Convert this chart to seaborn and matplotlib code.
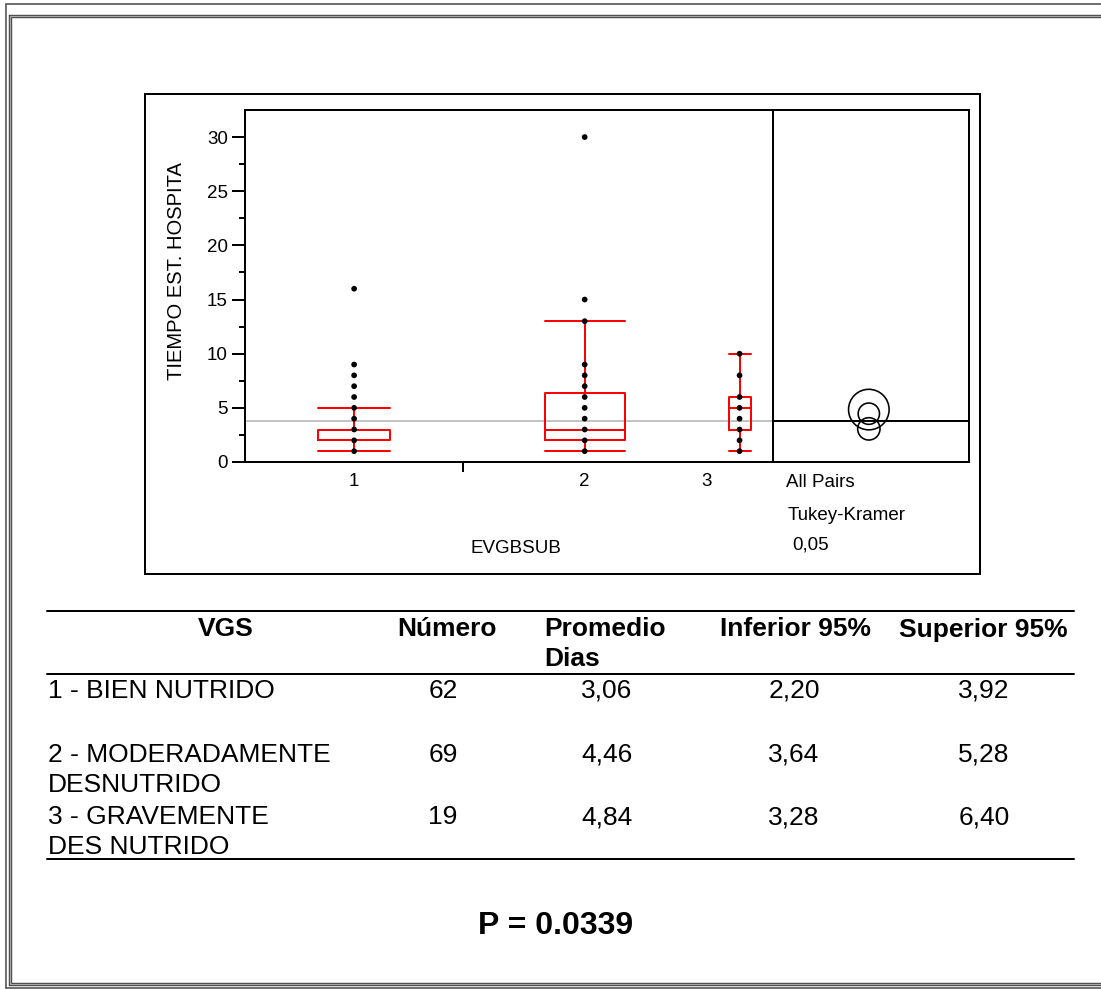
import numpy as np
import pandas as pd
import matplotlib
matplotlib.use("Agg")
import matplotlib.pyplot as plt
from matplotlib.patches import Circle, Rectangle
import seaborn as sns

# ---- data -------------------------------------------------------------
groups = ["1", "2", "3"]
group_n = [62, 69, 19]

# distinct hospital-stay values observed in each group (days)
dots_g1 = [1, 2, 3, 4, 5, 6, 7, 8, 9, 16]
dots_g2 = [1, 2, 3, 4, 5, 6, 7, 8, 9, 13, 15, 30]
dots_g3 = [1, 2, 3, 4, 5, 6, 8, 10]

# outlier box plot summaries per group
box_whislo = [1, 1, 1]
box_q1 = [2, 2, 3]
box_med = [2, 3, 5]
box_q3 = [3, 6.4, 6]
box_whishi = [5, 13, 10]

grand_mean = 3.8

# summary table
vgs_labels = ["1 - BIEN NUTRIDO", "2 - MODERADAMENTE\nDESNUTRIDO", "3 - GRAVEMENTE\nDES NUTRIDO"]
numero = [62, 69, 19]
promedio = [3.06, 4.46, 4.84]
inferior = [2.20, 3.64, 3.28]
superior = [3.92, 5.28, 6.40]
p_value = 0.0339
alpha = 0.05

# ---- style ------------------------------------------------------------
sns.set_style("ticks")
plt.rcParams["font.family"] = ["Liberation Sans", "DejaVu Sans"]
plt.rcParams.update({"text.color": "black", "axes.labelcolor": "black",
                     "xtick.color": "black", "ytick.color": "black"})

W, H = 1101, 989
PT = 0.72  # points per pixel at 100 dpi
fig = plt.figure(figsize=(W / 100, H / 100), dpi=100)


def rect(x0, y0, x1, y1):
    return [x0 / W, 1 - y1 / H, (x1 - x0) / W, (y1 - y0) / H]


# full-page layer in pixel units for frames, table and notes
bg = fig.add_axes([0, 0, 1, 1])
bg.set_xlim(0, W)
bg.set_ylim(H, 0)
bg.axis("off")

ax = fig.add_axes(rect(245, 110, 773, 462))
axc = fig.add_axes(rect(773, 110, 969, 462), sharey=ax)

# ---- box plot panel ---------------------------------------------------
edges = np.concatenate([[0], np.cumsum(group_n)])
centers = (edges[:-1] + edges[1:]) / 2
widths = np.array(group_n) * 0.33

dots = [dots_g1, dots_g2, dots_g3]
dot_df = pd.DataFrame({
    "x": np.concatenate([[c] * len(d) for c, d in zip(centers, dots)]),
    "y": np.concatenate(dots),
})

ax.axhline(grand_mean, color="#c4c4c4", lw=2 * PT, zorder=1)

stats = [dict(whislo=a, q1=b, med=c, q3=d, whishi=e, fliers=[])
         for a, b, c, d, e in zip(box_whislo, box_q1, box_med, box_q3, box_whishi)]
red = dict(color="#ff0000", lw=2 * PT)
ax.bxp(stats, positions=centers, widths=widths, capwidths=widths, showfliers=False,
       boxprops=red, whiskerprops=red, capprops=red, medianprops=red, manage_ticks=False,
       zorder=2)

sns.scatterplot(data=dot_df, x="x", y="y", ax=ax, color="black", s=17,
                marker="o", edgecolor="none", zorder=4, legend=False)

ax.set_xlim(0, edges[-1])
ax.set_ylim(0, 32.5)
ax.set_xlabel("")
ax.set_ylabel("")

ax.set_yticks(np.arange(0, 31, 5))
ax.set_yticks(np.arange(2.5, 31, 5), minor=True)
ax.tick_params(axis="y", which="major", length=13 * PT, width=2 * PT, labelsize=13.5, pad=3)
ax.tick_params(axis="y", which="minor", length=6 * PT, width=2 * PT)

# narrow last group keeps its label at the group's left edge
label_x = centers.copy()
label_x[-1] = edges[-2]
ax.set_xticks(label_x)
ax.set_xticklabels(groups)
ax.set_xticks(edges[1:-1], minor=True)
ax.tick_params(axis="x", which="major", length=0, labelsize=13.5, pad=8)
ax.tick_params(axis="x", which="minor", length=10 * PT, width=2 * PT)

for s in ax.spines.values():
    s.set_visible(True)
    s.set_linewidth(2 * PT)
    s.set_color("black")

# ---- comparison circles panel -----------------------------------------
yr = 32.5
half_w = 196 * yr / 352 / 2
axc.set_xlim(-half_w, half_w)
axc.axhline(grand_mean, color="black", lw=2 * PT, zorder=1)
tk_scale = 1.2  # Tukey-Kramer radius relative to the 95% half-width
for m, lo, hi in zip(promedio, inferior, superior):
    r = (hi - lo) / 2 * tk_scale
    axc.add_patch(Circle((-0.2, m), r, fill=False, ec="black", lw=1.6 * PT, zorder=3))
axc.tick_params(which="both", left=False, labelleft=False, bottom=False, labelbottom=False,
                right=False, top=False)
for s in axc.spines.values():
    s.set_visible(True)
    s.set_linewidth(2 * PT)
    s.set_color("black")

# ---- page frames --------------------------------------------------------
bg.plot([6, 6, W], [988, 4, 4], color="#505050", lw=1.6 * PT, solid_joinstyle="miter")
bg.plot([6, W], [988, 988], color="#505050", lw=1.6 * PT)
for col, lw in (("#404040", 3.4), ("#a8a8a8", 1.3)):
    bg.plot([W, 10, 10, W], [15.7, 15.7, 984, 984], color=col, lw=lw * PT,
            solid_joinstyle="miter")
bg.add_patch(Rectangle((145, 94), 835, 480, fill=False, ec="black", lw=2 * PT))

# ---- plot annotations ----------------------------------------------------
bg.text(176, 271, "TIEMPO EST. HOSPITA", rotation=90, ha="center", va="center", fontsize=14.5)
bg.text(516, 553, "EVGBSUB", ha="center", va="baseline", fontsize=13.5)
bg.text(786, 487, "All Pairs", ha="left", va="baseline", fontsize=13.5)
bg.text(788, 520, "Tukey-Kramer", ha="left", va="baseline", fontsize=13.5)
bg.text(792, 550, f"{alpha:.2f}".replace(".", ","), ha="left", va="baseline", fontsize=13.5)

# ---- table -------------------------------------------------------------
for y in (611, 674, 859):
    bg.plot([47, 1074], [y, y], color="black", lw=2 * PT)

tfs = 19
bg.text(226, 636.5, "VGS", ha="center", va="baseline", fontsize=tfs, fontweight="bold")
bg.text(447, 636.5, "Número", ha="center", va="baseline", fontsize=tfs, fontweight="bold")
bg.text(544, 636.5, "Promedio", ha="left", va="baseline", fontsize=tfs, fontweight="bold")
bg.text(544, 666.5, "Dias", ha="left", va="baseline", fontsize=tfs, fontweight="bold")
bg.text(796, 636.5, "Inferior 95%", ha="center", va="baseline", fontsize=tfs, fontweight="bold")
bg.text(983, 636.5, "Superior 95%", ha="center", va="baseline", fontsize=tfs, fontweight="bold")

row_base = [697.5, 761.5, 824.5]
fmt = lambda v: f"{v:.2f}".replace(".", ",")
for yb, lab, n, m, lo, hi in zip(row_base, vgs_labels, numero, promedio, inferior, superior):
    for i, line in enumerate(lab.split("\n")):
        bg.text(48, yb + 30 * i, line, ha="left", va="baseline", fontsize=tfs)
    bg.text(443, yb, str(n), ha="center", va="baseline", fontsize=tfs)
    bg.text(607, yb, fmt(m), ha="center", va="baseline", fontsize=tfs)
    bg.text(794, yb, fmt(lo), ha="center", va="baseline", fontsize=tfs)
    bg.text(984, yb, fmt(hi), ha="center", va="baseline", fontsize=tfs)

bg.text(556, 934.5, f"P = {p_value:.4f}", ha="center", va="baseline", fontsize=23,
        fontweight="bold")

fig.savefig("out.png", dpi=100)
